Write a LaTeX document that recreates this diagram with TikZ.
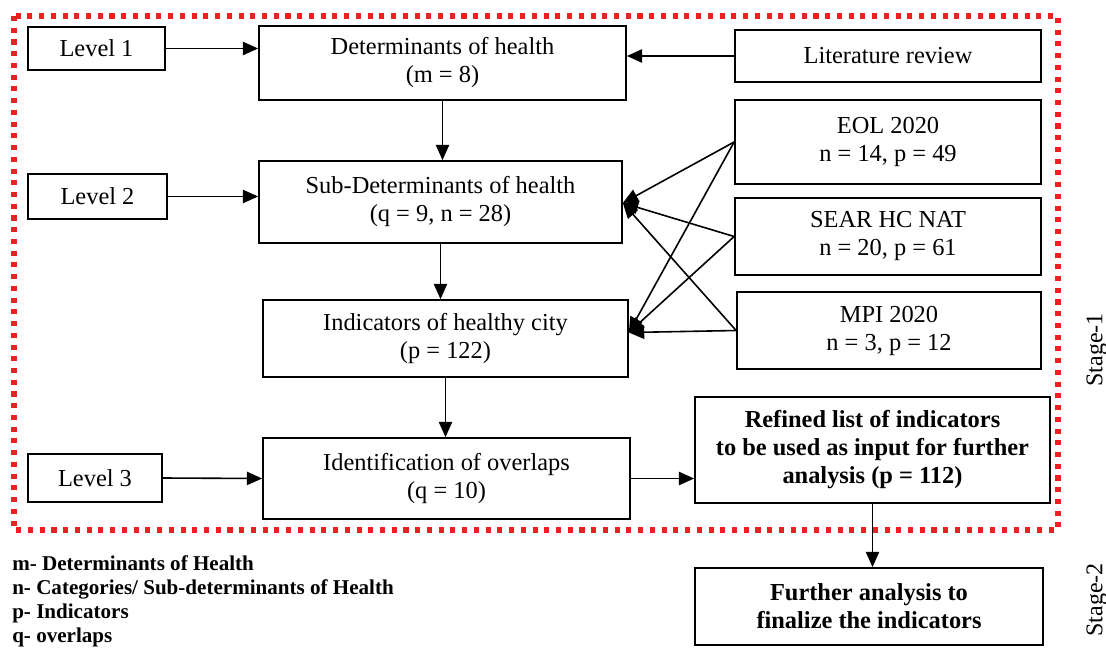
\documentclass[tikz,border=0pt]{standalone}
\usepackage{fontspec}
\setmainfont{Liberation Serif}
\usetikzlibrary{arrows.meta,calc}
\definecolor{dotred}{RGB}{237,32,36}
\begin{document}
\begin{tikzpicture}[x=0.75pt,y=-0.75pt,
  box/.style={draw,line width=1.3pt,align=center,inner sep=2pt,font=\fontsize{18.3}{21}\selectfont},
  arr/.style={line width=1.2pt,-{Triangle[length=11.5pt,width=10pt]}},
  lbl/.style={font=\fontsize{18}{21}\selectfont}]
\useasboundingbox (0,0) rectangle (1106,653);
\draw[dotred,line width=3.8pt,dash pattern=on 3.8pt off 5pt] (14,16) rectangle (1058,530);
\node[box,minimum width=102.75pt,minimum height=32.25pt] (l1) at (96.5,48.5) {Level 1};
\node[box,minimum width=275.25pt,minimum height=55.5pt] (det) at (442.5,63) {Determinants of health\\(m = 8)};
\node[box,minimum width=229.5pt,minimum height=39pt] (lit) at (888,56) {Literature review};
\node[box,minimum width=229.5pt,minimum height=63pt] (eol) at (888,142) {EOL 2020\\n = 14, p = 49};
\node[box,minimum width=104.25pt,minimum height=33.75pt] (l2) at (97.5,196.5) {Level 2};
\node[box,minimum width=272.25pt,minimum height=61.5pt] (sub) at (440.5,202) {Sub-Determinants of health\\(q = 9, n = 28)};
\node[box,minimum width=229.5pt,minimum height=57.75pt] (sear) at (888,236.5) {SEAR HC NAT\\n = 20, p = 61};
\node[box,minimum width=273.75pt,minimum height=57.75pt] (ind) at (445.5,338.5) {Indicators of healthy city\\(p = 122)};
\node[box,minimum width=228pt,minimum height=57.75pt] (mpi) at (889,330.5) {MPI 2020\\n = 3, p = 12};
\node[box,minimum width=100.5pt,minimum height=36pt] (l3) at (95,478) {Level 3};
\node[box,minimum width=275.25pt,minimum height=60.75pt] (id) at (446.5,478.5) {Identification of overlaps\\(q = 10)};
\node[box,minimum width=266.25pt,minimum height=79.5pt,font=\fontsize{18.3}{21}\selectfont\bfseries] (ref) at (872.5,450) {Refined list of indicators\\to be used as input for further\\analysis (p = 112)};
\node[box,minimum width=261pt,minimum height=57.75pt,font=\fontsize{18.3}{21}\selectfont\bfseries] (fur) at (869,606.5) {Further analysis to\\finalize the indicators};
\node[lbl,rotate=90] (s1) at (1097,350) {Stage-1};
\node[lbl,rotate=90] (s2) at (1097,600) {Stage-2};
\node[anchor=west,align=left,inner sep=0pt,font=\fontsize{15.8}{18}\selectfont\bfseries] (leg) at (12,601) {m- Determinants of Health\\n- Categories/ Sub-determinants of Health\\p- Indicators\\q- overlaps};
\draw[arr] (l1.east) -- (l1.east -| det.west);
\draw[arr] (lit.west) -- (lit.west -| det.east);
\draw[arr] (det.south) -- (det.south |- sub.north);
\draw[arr] (l2.east) -- (l2.east -| sub.west);
\draw[arr] (sub.south) -- (sub.south |- ind.north);
\draw[arr] (ind.south) -- (ind.south |- id.north);
\draw[arr] (l3.east) -- (id.west);
\draw[arr] (id.east) -- (id.east -| ref.west);
\draw[arr] (ref.south) -- (ref.south |- fur.north);
\coordinate (subin) at ($(sub.east)+(0,1)$);
\coordinate (indin) at ($(ind.east)+(0,-6)$);
\foreach \s in {eol,sear,mpi}{
  \draw[arr] (\s.west) -- (subin);
  \draw[arr] (\s.west) -- (indin);
}
\end{tikzpicture}
\end{document}
